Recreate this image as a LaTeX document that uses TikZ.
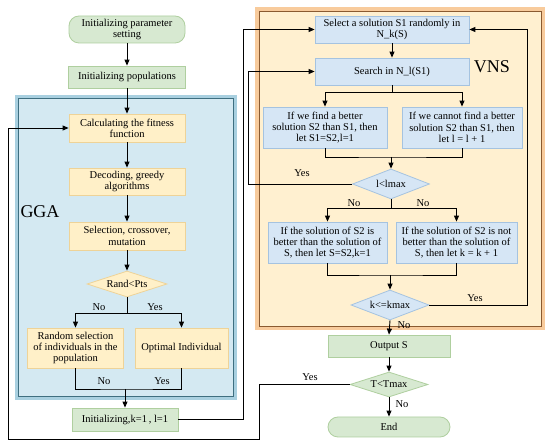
\documentclass[tikz,border=0pt]{standalone}
\usepackage{fontspec}
\setmainfont{Liberation Serif}
\usetikzlibrary{arrows.meta,shapes.geometric,calc}
\definecolor{gfill}{HTML}{D7E9D1}
\definecolor{gline}{HTML}{AFCF9F}
\definecolor{yfill}{HTML}{FFF0C8}
\definecolor{yline}{HTML}{EED398}
\definecolor{bfill}{HTML}{D6E6F5}
\definecolor{bline}{HTML}{A5C3E0}
\definecolor{ggaband}{HTML}{A9D0E0}
\definecolor{ggaline}{HTML}{3F6F80}
\definecolor{ggain}{HTML}{D4E9F2}
\definecolor{vnsband}{HTML}{F8CB9C}
\definecolor{vnsline}{HTML}{8A5A30}
\definecolor{vnsin}{HTML}{FFF0D0}
\tikzset{
  txt/.style={font=\fontsize{10.5}{11.2}\selectfont, align=center},
  box/.style={txt, rectangle, line width=0.8pt, inner sep=1pt},
  gbox/.style={box, fill=gfill, draw=gline},
  ybox/.style={box, fill=yfill, draw=yline},
  bbox/.style={box, fill=bfill, draw=bline},
  rbox/.style={gbox, rounded corners=10pt},
  dia/.style={txt, diamond, aspect=2.8, inner sep=0pt, line width=0.8pt},
  gdia/.style={dia, fill=gfill, draw=gline},
  ydia/.style={dia, fill=yfill, draw=yline},
  bdia/.style={dia, fill=bfill, draw=bline},
  lbl/.style={font=\fontsize{10.5}{11}\selectfont, inner sep=0pt},
  big/.style={font=\fontsize{18}{20}\selectfont, inner sep=0pt},
  arr/.style={line width=0.9pt, -{Triangle[length=6pt,width=5pt]}},
  ln/.style={line width=0.9pt},
}
\begin{document}
\begin{tikzpicture}[x=1pt,y=-1pt]
\fill[white] (0,0) rectangle (550,446);
\useasboundingbox (0,0) rectangle (550,446);
% containers
\fill[ggaband] (15,95) rectangle (237,400);
\filldraw[fill=ggain, draw=ggaline, line width=0.9pt] (18.5,98.5) rectangle (233.5,396.5);
\fill[vnsband] (255,7) rectangle (545,330);
\filldraw[fill=vnsin, draw=vnsline, line width=0.9pt] (259,11) rectangle (541,326);
\node[big] (gga) at (40,212) {GGA};
\node[big] (vns) at (492,67) {VNS};
% left column
\node[rbox, minimum width=116pt, minimum height=27pt] (ip) at (127,29.5) {Initializing parameter\\setting};
\node[gbox, minimum width=117pt, minimum height=22pt] (pop) at (127,77) {Initializing populations};
\node[ybox, minimum width=116pt, minimum height=28pt] (calc) at (127,128) {Calculating the fitness\\function};
\node[ybox, minimum width=116pt, minimum height=27pt] (dec) at (127,181.5) {Decoding, greedy\\algorithms};
\node[ybox, minimum width=116pt, minimum height=28pt] (sel) at (127,236) {Selection, crossover,\\mutation};
\node[ydia, minimum width=80pt, minimum height=26pt] (rp) at (127,284) {Rand<Pts};
\node[ybox, minimum width=96pt, minimum height=40pt] (rs) at (75.5,348) {Random selection\\of individuals in the\\population};
\node[ybox, minimum width=93pt, minimum height=40pt] (oi) at (181.5,348) {Optimal Individual};
\node[gbox, minimum width=106pt, minimum height=23pt] (ik) at (125,419.5) {Initializing,k=1\,, l=1};
% right column
\node[bbox, minimum width=154pt, minimum height=27pt] (s1) at (392,29.5) {Select a solution S1 randomly in\\N\_k(S)};
\node[bbox, minimum width=154pt, minimum height=27pt] (srch) at (392,71.5) {Search in N\_l(S1)};
\node[bbox, minimum width=124pt, minimum height=41pt] (u1) at (325,127.5) {If we find a better\\solution S2 than S1, then\\let S1=S2,l=1};
\node[bbox, minimum width=120pt, minimum height=41pt] (u2) at (462,127.5) {If we cannot find a better\\solution S2 than S1, then\\let l = l + 1};
\node[bdia, minimum width=77pt, minimum height=30pt] (ll) at (391,184) {l<lmax};
\node[bbox, minimum width=119pt, minimum height=41pt] (w1) at (327.5,242.5) {If the solution of S2 is\\better than the solution of\\S, then let S=S2,k=1};
\node[bbox, minimum width=121pt, minimum height=41pt] (w2) at (456.5,242.5) {If the solution of S2 is not\\better than the solution of\\S, then let k = k + 1};
\node[bdia, minimum width=78pt, minimum height=30pt] (kk) at (390,305) {k<=kmax};
\node[gbox, minimum width=122pt, minimum height=22pt] (out) at (389,346) {Output S};
\node[gdia, minimum width=78pt, minimum height=25pt] (tt) at (389,384.5) {T<Tmax};
\node[rbox, minimum width=122pt, minimum height=20pt] (end) at (389,427) {End};
% coordinates
\coordinate (b1) at (127,313);
\coordinate (m1) at (125,389);
\coordinate (c1) at (243,0);
\coordinate (c2) at (248,0);
\coordinate (c3) at (259,439);
\coordinate (c4) at (8,439);
\coordinate (c5) at (527,0);
\coordinate (b2) at (392,92);
\coordinate (m2) at (391,157);
\coordinate (b3) at (391,208);
\coordinate (m3) at (390,275);
% left connectors
\draw[arr] (ip) -- (pop);
\draw[arr] (pop) -- (calc);
\draw[arr] (calc) -- (dec);
\draw[arr] (dec) -- (sel);
\draw[arr] (sel) -- (rp);
\draw[ln] (rp.south) -- (b1);
\draw[arr] (b1) -| (rs.north);
\draw[arr] (b1) -| (oi.north);
\draw[ln] (rs.south) |- (m1) -| (oi.south);
\draw[arr] (m1) -- (ik.north);
\node[lbl] at (99,307) {No};
\node[lbl] at (155,307) {Yes};
\node[lbl] at (104,381) {No};
\node[lbl] at (162,381) {Yes};
% loops
\draw[arr] (ik.east) -- (ik.east -| c1) |- (s1.west);
\draw[arr] (ll.west) -- (ll.west -| c2) |- (srch.west);
\draw[arr] (tt.west) -| (c3) -- (c4) |- (calc.west);
\draw[arr] (kk.east) -- (kk.east -| c5) |- (s1.east);
\node[lbl] at (302,173) {Yes};
\node[lbl] at (475,298) {Yes};
\node[lbl] at (310,377) {Yes};
% right connectors
\draw[arr] (s1) -- (srch);
\draw[ln] (srch.south) -- (b2);
\draw[arr] (b2) -| (u1.north);
\draw[arr] (b2) -| (u2.north);
\draw[ln] (u1.south) |- (m2) -| (u2.south);
\draw[arr] (m2) -- (ll.north);
\draw[ln] (ll.south) -- (b3);
\draw[arr] (b3) -| (w1.north);
\draw[arr] (b3) -| (w2.north);
\node[lbl] at (354,203) {No};
\node[lbl] at (423,203) {No};
\draw[ln] (w1.south) |- (m3) -| (w2.south);
\draw[arr] (m3) -- (kk.north);
\draw[arr] (kk.south) -- (out.north);
\node[lbl] at (404,325) {No};
\draw[arr] (out) -- (tt);
\draw[arr] (tt) -- (end);
\node[lbl] at (402,404) {No};
\end{tikzpicture}
\end{document}
